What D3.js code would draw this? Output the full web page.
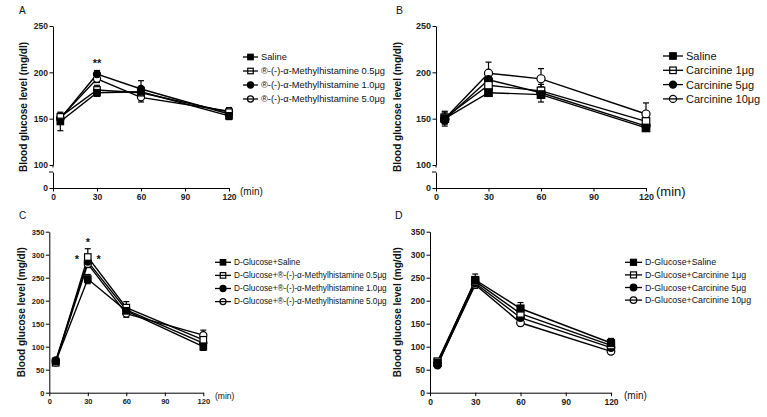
<!DOCTYPE html>
<html><head><meta charset="utf-8">
<script src="https://cdn.jsdelivr.net/npm/d3@7"></script>
<style>body{margin:0;background:#fff}svg{display:block;font-family:"Liberation Sans",Arial,sans-serif}</style>
</head><body><svg id="c" width="767" height="417"></svg>
<script>
// ---------- data ----------
const times = [5, 30, 60, 120];
const xTicks = [0, 30, 60, 90, 120];
const yTicksAB = [100, 150, 200, 250];
const yTicksABlow = [0];
const yTicksCD = [0, 50, 100, 150, 200, 250, 300, 350];

const namesA = ["Saline", "®-(-)-α-Methylhistamine 0.5μg", "®-(-)-α-Methylhistamine 1.0μg", "®-(-)-α-Methylhistamine 5.0μg"];
const valuesA = [[147, 178, 179, 153], [152, 181, 178, 157], [150, 198, 182, 155], [151, 193, 173, 158]];
const errorsA = [[10, 4, 4, 4], [4, 5, 5, 4], [3, 4, 9, 3], [3, 4, 5, 4]];

const namesB = ["Saline", "Carcinine 1μg", "Carcinine 5μg", "Carcinine 10μg"];
const valuesB = [[150, 178, 176, 140], [151, 186, 180, 147], [149, 192, 178, 142], [150, 199, 193, 155]];
const errorsB = [[8, 4, 8, 3], [6, 5, 7, 5], [5, 5, 6, 4], [5, 12, 11, 12]];

const namesC = ["D-Glucose+Saline", "D-Glucose+®-(-)-α-Methylhistamine 0.5μg", "D-Glucose+®-(-)-α-Methylhistamine 1.0μg", "D-Glucose+®-(-)-α-Methylhistamine 5.0μg"];
const valuesC = [[68, 247, 178, 100], [65, 295, 185, 115], [70, 285, 180, 108], [66, 280, 172, 125]];
const errorsC = [[5, 10, 8, 8], [5, 18, 13, 8], [5, 10, 8, 8], [5, 8, 8, 11]];

const namesD = ["D-Glucose+Saline", "D-Glucose+Carcinine 1μg", "D-Glucose+Carcinine 5μg", "D-Glucose+Carcinine 10μg"];
const valuesD = [[65, 245, 183, 108], [68, 242, 172, 103], [60, 238, 163, 98], [62, 235, 152, 90]];
const errorsD = [[5, 13, 13, 10], [5, 10, 10, 8], [5, 8, 8, 8], [5, 8, 6, 6]];

const starsA = [{t: 30, v: 212, s: "**"}];
const starsC = [{t: 30, v: 333, s: "*"}, {t: 21.5, v: 296, s: "*"}, {t: 38.5, v: 296, s: "*"}];

const markerKinds = ["squareFilled", "squareOpen", "circleFilled", "circleOpen"];

// ---------- drawing ----------
const svg = d3.select("#c");

function marker(g, kind, cx, cy, s) {
  if (kind.startsWith("square")) {
    g.append("rect").attr("x", cx - s / 2).attr("y", cy - s / 2).attr("width", s).attr("height", s)
      .attr("fill", kind.endsWith("Filled") ? "#000" : "#fff").attr("stroke", "#000").attr("stroke-width", 1.2);
  } else {
    g.append("circle").attr("cx", cx).attr("cy", cy).attr("r", s / 2 + 0.3)
      .attr("fill", kind.endsWith("Filled") ? "#000" : "#fff").attr("stroke", "#000").attr("stroke-width", 1.2);
  }
}

function styleAxis(ax, fs) {
  ax.attr("font-family", '"Liberation Sans",Arial,sans-serif').attr("font-size", fs).attr("font-weight", "bold");
  ax.selectAll("path,line").attr("stroke", "#000").attr("stroke-width", 1);
  ax.selectAll("text").attr("fill", "#222");
}

function panel(cfg) {
  const g = svg.append("g");
  const x = d3.scaleLinear().domain([0, 120]).range([cfg.x0, cfg.x1]);
  let y;
  if (cfg.broken) {
    const yUp = d3.scaleLinear().domain([100, 250]).range([cfg.y100, cfg.yTop]);
    y = v => yUp(v);
    const ax = g.append("g").attr("transform", `translate(${cfg.x0},0)`)
      .call(d3.axisLeft(yUp).tickValues(yTicksAB).tickSize(3.5).tickSizeOuter(0).tickPadding(1.5));
    styleAxis(ax, cfg.tfs);
    g.append("line").attr("x1", cfg.x0).attr("x2", cfg.x0).attr("y1", cfg.y100).attr("y2", cfg.y100 + 2.5).attr("stroke", "#000");
    const yLow = d3.scaleLinear().domain([0, 20]).range([cfg.y0, cfg.y0 - 16]);
    const ax2 = g.append("g").attr("transform", `translate(${cfg.x0},0)`)
      .call(d3.axisLeft(yLow).tickValues(yTicksABlow).tickSize(3.5).tickSizeOuter(0).tickPadding(1.5));
    styleAxis(ax2, cfg.tfs);
    g.append("line").attr("x1", cfg.x0 - 4).attr("x2", cfg.x0).attr("y1", cfg.y0 - 16).attr("y2", cfg.y0 - 16).attr("stroke", "#000");
  } else {
    const yS = d3.scaleLinear().domain([0, 350]).range([cfg.y0, cfg.yTop]);
    y = v => yS(v);
    const ax = g.append("g").attr("transform", `translate(${cfg.x0},0)`)
      .call(d3.axisLeft(yS).tickValues(yTicksCD).tickSize(3.5).tickSizeOuter(0).tickPadding(1.5));
    styleAxis(ax, cfg.tfs);
  }
  const axx = g.append("g").attr("transform", `translate(0,${cfg.y0})`)
    .call(d3.axisBottom(x).tickValues(xTicks).tickSize(3.5).tickSizeOuter(0).tickPadding(2.5));
  styleAxis(axx, cfg.tfs);

  g.append("text").attr("transform", `translate(${cfg.ylx},${(cfg.yTop + cfg.y0) / 2}) rotate(-90)`)
    .attr("text-anchor", "middle").attr("dominant-baseline", "central")
    .attr("font-size", 10).attr("font-weight", "bold").attr("fill", "#111").text("Blood glucose level (mg/dl)");
  g.append("text").attr("x", cfg.lx).attr("y", cfg.ly).attr("font-size", cfg.lfs).attr("fill", "#111").text(cfg.letter);
  g.append("text").attr("x", cfg.minx).attr("y", cfg.y0 + 3).attr("dominant-baseline", "central")
    .attr("font-size", cfg.minfs).attr("fill", "#111").text("(min)");

  const line = d3.line().x((d, i) => x(times[i])).y(d => y(d));
  const order = [3, 2, 1, 0];
  order.forEach(k => {
    g.append("path").attr("d", line(cfg.values[k])).attr("fill", "none").attr("stroke", "#000").attr("stroke-width", 1.4);
  });
  order.forEach(k => {
    cfg.values[k].forEach((v, i) => {
      const e = cfg.errors[k][i], cx = x(times[i]);
      g.append("line").attr("x1", cx).attr("x2", cx).attr("y1", y(v - e)).attr("y2", y(v + e)).attr("stroke", "#000").attr("stroke-width", 1.2);
      [v - e, v + e].forEach(w => g.append("line").attr("x1", cx - 3).attr("x2", cx + 3).attr("y1", y(w)).attr("y2", y(w)).attr("stroke", "#000").attr("stroke-width", 1.2));
    });
  });
  order.forEach(k => {
    cfg.values[k].forEach((v, i) => marker(g, markerKinds[k], x(times[i]), y(v), cfg.ms));
  });
  (cfg.stars || []).forEach(s => {
    g.append("text").attr("x", x(s.t)).attr("y", y(s.v) + 6).attr("text-anchor", "middle")
      .attr("font-size", 11).attr("font-weight", "bold").attr("fill", "#111").text(s.s);
  });
  cfg.names.forEach((n, k) => {
    const ly = cfg.legY + k * cfg.legStep;
    marker(g, markerKinds[k], cfg.legX + cfg.legW / 2, ly, cfg.lms);
    g.append("line").attr("x1", cfg.legX).attr("x2", cfg.legX + cfg.legW).attr("y1", ly).attr("y2", ly).attr("stroke", "#000").attr("stroke-width", 1.3);
    g.append("text").attr("x", cfg.legX + cfg.legW + 3).attr("y", ly).attr("dominant-baseline", "central")
      .attr("font-size", cfg.legfs).attr("fill", "#111").text(n);
  });
}

panel({letter: "A", lx: 19, ly: 14, lfs: 10, broken: true, x0: 53, x1: 229, yTop: 26, y100: 165, y0: 188, tfs: 8.5,
  ylx: 23, minx: 240, minfs: 10, values: valuesA, errors: errorsA, ms: 6.5, stars: starsA,
  names: namesA, legX: 243, legY: 57, legStep: 14, legW: 15, lms: 5.5, legfs: 9.3});
panel({letter: "B", lx: 396, ly: 14, lfs: 10.5, broken: true, x0: 436, x1: 646, yTop: 26, y100: 165, y0: 188, tfs: 9,
  ylx: 397, minx: 656, minfs: 13, values: valuesB, errors: errorsB, ms: 7.5,
  names: namesB, legX: 663, legY: 56, legStep: 14.3, legW: 20, lms: 6.5, legfs: 11});
panel({letter: "C", lx: 19, ly: 219, lfs: 10, broken: false, x0: 49.3, x1: 203.3, yTop: 231.7, y0: 392.7, tfs: 7.5,
  ylx: 21.7, minx: 215, minfs: 8.5, values: valuesC, errors: errorsC, ms: 6.5, stars: starsC,
  names: namesC, legX: 215, legY: 262.3, legStep: 13.1, legW: 16, lms: 5.5, legfs: 8.2});
panel({letter: "D", lx: 395, ly: 219, lfs: 10.5, broken: false, x0: 430, x1: 611, yTop: 231.7, y0: 392.7, tfs: 8.5,
  ylx: 397, minx: 624, minfs: 10, values: valuesD, errors: errorsD, ms: 7,
  names: namesD, legX: 625, legY: 262.3, legStep: 12.6, legW: 17, lms: 6, legfs: 8.8});
</script></body></html>
